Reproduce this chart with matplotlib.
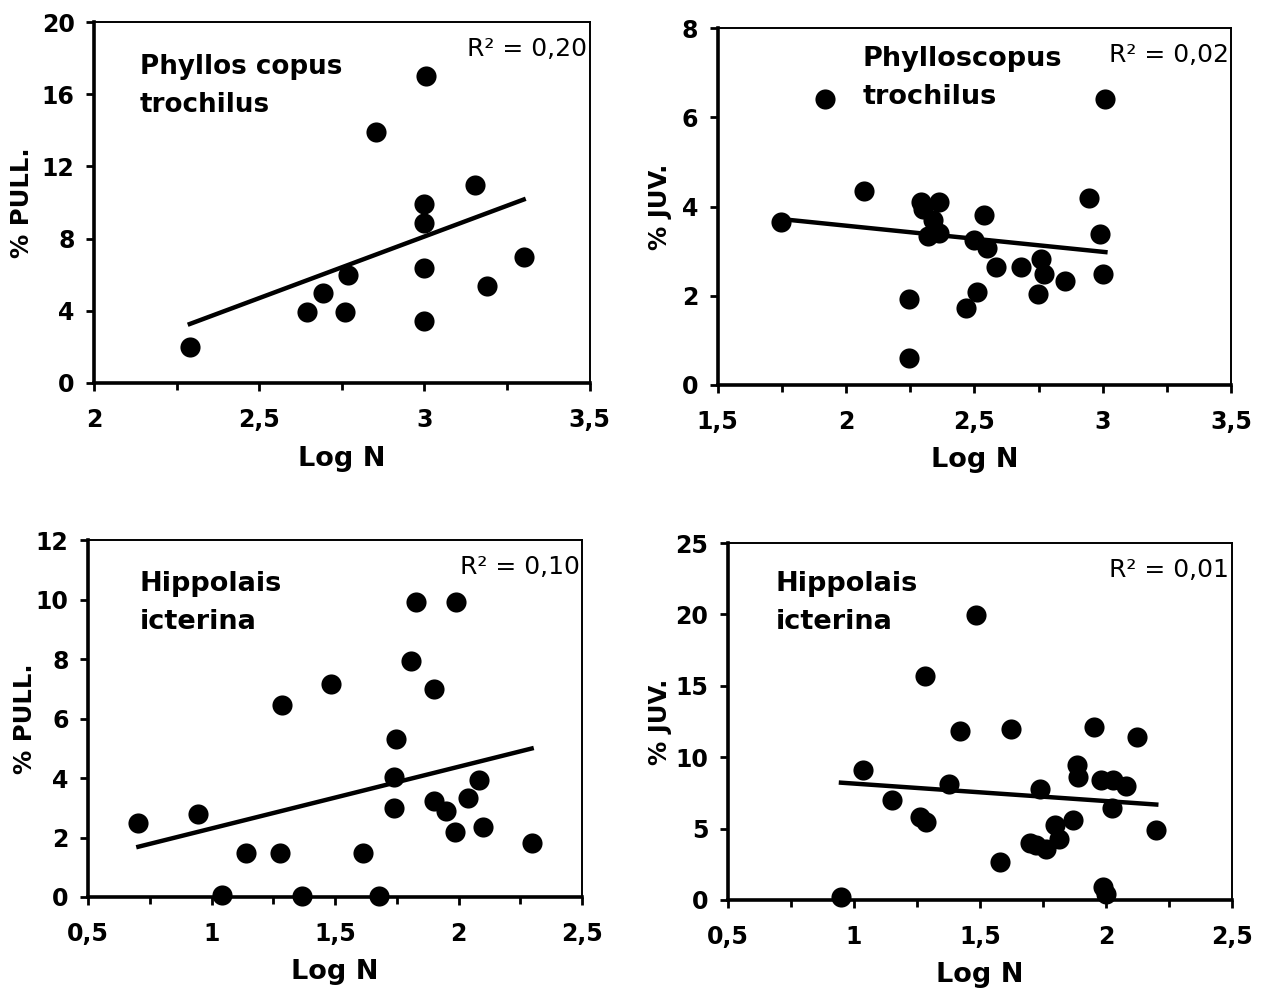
import matplotlib
matplotlib.use("Agg")
import matplotlib.pyplot as plt
from matplotlib.ticker import MultipleLocator, FuncFormatter

plt.rcParams['font.family'] = ['DejaVu Sans']

# Phylloscopus trochilus, % PULL.
pt_pull_x = [2.29, 2.644, 2.694, 2.76, 2.769, 2.854, 3.004, 2.998, 3.0, 3.0, 3.0, 3.154, 3.19, 3.30]
pt_pull_y = [2.0, 3.95, 4.97, 3.95, 6.0, 13.9, 17.0, 9.94, 8.87, 6.4, 3.43, 11.0, 5.38, 6.96]
pt_pull_fit = [6.83, -12.37]  # slope, intercept

# Phylloscopus trochilus, % JUV.
pt_juv_x = [1.746, 1.916, 2.068, 2.246, 2.246, 2.29, 2.30, 2.36, 2.34, 2.32, 2.36, 2.467, 2.50,
            2.51, 2.538, 2.55, 2.582, 2.683, 2.758, 2.77, 2.748, 2.854, 2.948, 2.99, 3.0, 3.01]
pt_juv_y = [3.65, 6.4, 4.35, 1.93, 0.6, 4.1, 3.95, 4.1, 3.7, 3.35, 3.4, 1.73, 3.24,
            2.08, 3.81, 3.07, 2.64, 2.64, 2.83, 2.49, 2.05, 2.32, 4.2, 3.39, 2.49, 6.4]
pt_juv_fit = [-0.586, 4.743]

# Hippolais icterina, % PULL.
hi_pull_x = [0.704, 0.944, 1.043, 1.14, 1.276, 1.284, 1.367, 1.482, 1.613, 1.68, 1.745, 1.737,
             1.737, 1.806, 1.827, 1.90, 1.99, 1.90, 1.95, 1.987, 2.038, 2.082, 2.099, 2.296]
hi_pull_y = [2.48, 2.79, 0.07, 1.47, 1.47, 6.46, 0.03, 7.15, 1.47, 0.03, 5.31, 4.02,
             2.99, 7.93, 9.92, 6.98, 9.92, 3.24, 2.88, 2.17, 3.33, 3.93, 2.36, 1.80]
hi_pull_fit = [2.075, 0.229]

# Hippolais icterina, % JUV.
hi_juv_x = [0.949, 1.036, 1.15, 1.261, 1.285, 1.282, 1.378, 1.421, 1.486, 1.579, 1.624, 1.70,
            1.723, 1.74, 1.763, 1.80, 1.815, 1.87, 1.884, 1.889, 1.953, 1.98, 1.99, 2.0,
            2.03, 2.024, 2.08, 2.125, 2.20]
hi_juv_y = [0.19, 9.09, 6.98, 5.81, 5.46, 15.69, 8.15, 11.83, 19.98, 2.65, 12.01, 3.98,
            3.82, 7.8, 3.58, 5.27, 4.29, 5.57, 9.44, 8.62, 12.13, 8.43, 0.89, 0.42,
            8.38, 6.46, 7.99, 11.43, 4.92]
hi_juv_fit = [-1.225, 9.38]

panels = [
    dict(pos=[0.0741, 0.6147, 0.391, 0.363], x=pt_pull_x, y=pt_pull_y, fit=pt_pull_fit,
         xlim=(2, 3.5), ylim=(0, 20), ystep=4, ylabel='% PULL.', r2='0,20',
         name='Phyllos copus\ntrochilus', nx=0.093, ny=0.913, nfs=18.8, ylx=-0.145),
    dict(pos=[0.566, 0.6127, 0.405, 0.359], x=pt_juv_x, y=pt_juv_y, fit=pt_juv_fit,
         xlim=(1.5, 3.5), ylim=(0, 8), ystep=2, ylabel='% JUV.', r2='0,02',
         name='Phylloscopus\ntrochilus', nx=0.282, ny=0.95, nfs=19.5, ylx=-0.113),
    dict(pos=[0.0694, 0.0976, 0.3896, 0.359], x=hi_pull_x, y=hi_pull_y, fit=hi_pull_fit,
         xlim=(0.5, 2.5), ylim=(0, 12), ystep=2, ylabel='% PULL.', r2='0,10',
         name='Hippolais\nicterina', nx=0.105, ny=0.914, nfs=19.5, ylx=-0.128),
    dict(pos=[0.574, 0.0946, 0.3975, 0.359], x=hi_juv_x, y=hi_juv_y, fit=hi_juv_fit,
         xlim=(0.5, 2.5), ylim=(0, 25), ystep=5, ylabel='% JUV.', r2='0,01',
         name='Hippolais\nicterina', nx=0.095, ny=0.922, nfs=19.5, ylx=-0.135),
]

fmt = FuncFormatter(lambda v, p: ('%g' % v).replace('.', ','))

fig = plt.figure(figsize=(12.68, 9.94), dpi=100)
for p in panels:
    ax = fig.add_axes(p['pos'])
    ax.scatter(p['x'], p['y'], s=210, c='black', zorder=3, clip_on=False, linewidths=0)
    x0, x1 = min(p['x']), max(p['x'])
    a, b = p['fit']
    ax.plot([x0, x1], [a * x0 + b, a * x1 + b], color='black', lw=3.2, zorder=2)
    ax.set_xlim(*p['xlim'])
    ax.set_ylim(*p['ylim'])
    ax.xaxis.set_major_locator(MultipleLocator(0.5))
    ax.xaxis.set_minor_locator(MultipleLocator(0.25))
    ax.yaxis.set_major_locator(MultipleLocator(p['ystep']))
    ax.xaxis.set_major_formatter(fmt)
    ax.yaxis.set_major_formatter(fmt)
    ax.tick_params(axis='both', which='major', direction='out', length=6, width=2,
                   labelsize=17)
    ax.tick_params(axis='x', which='major', pad=12)
    ax.tick_params(axis='y', which='major', pad=8)
    ax.tick_params(axis='x', which='minor', direction='out', length=5, width=2)
    for lab in ax.get_xticklabels() + ax.get_yticklabels():
        lab.set_fontweight('bold')
    ax.spines['left'].set_linewidth(2.6)
    ax.spines['bottom'].set_linewidth(2.6)
    ax.spines['top'].set_linewidth(1.4)
    ax.spines['right'].set_linewidth(1.4)
    ax.set_ylabel(p['ylabel'], fontsize=17.5, fontweight='bold', va='center')
    ax.yaxis.set_label_coords(p['ylx'], 0.5)
    ax.set_xlabel('Log N', fontsize=19.5, fontweight='bold', va='center')
    ax.xaxis.set_label_coords(0.5, -0.21)
    ax.text(0.995, 0.925, 'R² = ' + p['r2'], transform=ax.transAxes, ha='right',
            va='center', fontsize=18)
    ax.text(p['nx'], p['ny'], p['name'], transform=ax.transAxes, ha='left', va='top',
            fontsize=p['nfs'], fontweight='bold', linespacing=1.6)

fig.savefig('out.png', dpi=100)
